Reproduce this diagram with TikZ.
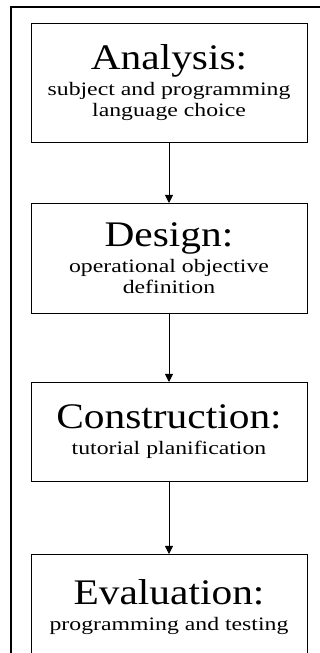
\documentclass[tikz,border=0pt]{standalone}
\usepackage{fontspec}
\setmainfont{Liberation Serif}[FakeStretch=1.25]
\newfontfamily\titlefont{Liberation Serif}[FakeStretch=1.15]
\usetikzlibrary{arrows.meta,positioning}
\newcommand{\stagename}[1]{{\titlefont\fontsize{36}{38}\selectfont #1}}
\tikzset{
  >={Triangle[length=8pt,width=8pt]},
  stage/.style  ={draw=black,line width=0.8pt,fill=white,outer sep=0pt,
                  inner sep=2pt,minimum width=276pt,align=center,
                  font=\fontsize{19}{21}\selectfont},
  flow/.style   ={->,draw=black,line width=0.9pt},
  frame/.style  ={draw=black,line width=2pt},
}

\begin{document}
\begin{tikzpicture}[x=1pt,y=1pt]
\useasboundingbox (0,0) rectangle (320,653);
% outer frame (cut at right and bottom)
\draw[frame] (11,-5) -- (11,646) -- (330,646);
% stages
\node[stage,minimum height=119pt] (analysis) at (169,570.5)
  {\stagename{Analysis:}\\[5pt]subject and programming\\language choice};
\node[stage,minimum height=110pt,below=61pt of analysis] (design)
  {\stagename{Design:}\\[5pt]operational objective\\definition};
\node[stage,minimum height=99pt,below=69pt of design] (construction)
  {\stagename{Construction:}\\[5pt]tutorial planification};
\node[stage,minimum height=106pt,below=73pt of construction] (evaluation)
  {\stagename{Evaluation:}\\[5pt]programming and testing};
% arrows
\draw[flow] (analysis) -- (design);
\draw[flow] (design) -- (construction);
\draw[flow] (construction) -- (evaluation);
\end{tikzpicture}
\end{document}
